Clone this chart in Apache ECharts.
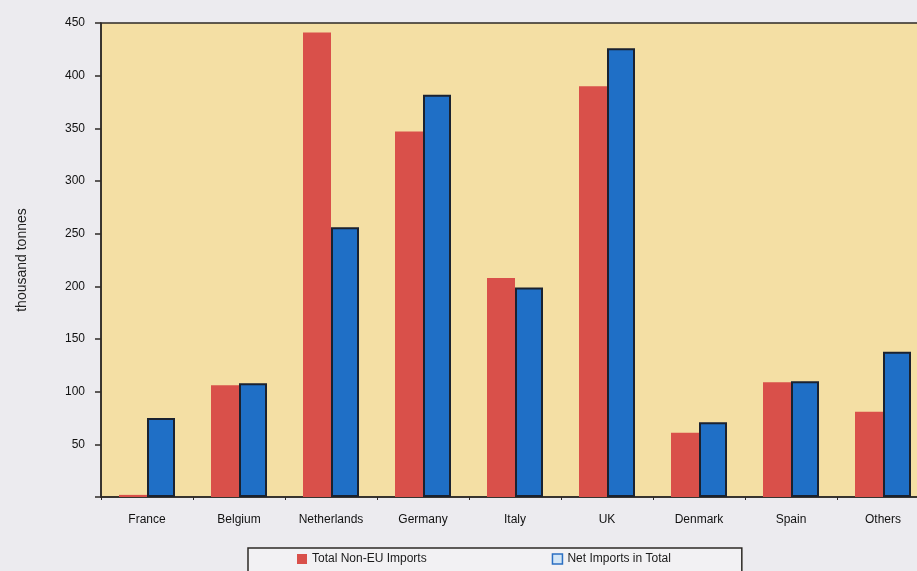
<!DOCTYPE html>
<html>
<head>
<meta charset="utf-8">
<script src="https://cdn.jsdelivr.net/npm/echarts@6/dist/echarts.min.js"></script>
<style>
html,body{margin:0;padding:0;background:#ecebef;overflow:hidden;width:917px;height:571px;}
#chart{width:932px;height:571px;}
</style>
</head>
<body>
<div id="chart"></div>
<script>
const categories = ['France','Belgium','Netherlands','Germany','Italy','UK','Denmark','Spain','Others'];
const totalNonEU = [2, 106, 441, 347, 208, 390, 61, 109, 81];
const netImports = [75, 108, 256, 382, 199, 426, 71, 110, 138];
const seriesNames = ['Total Non-EU Imports', 'Net Imports in Total'];
const yTicks = [0, 50, 100, 150, 200, 250, 300, 350, 400, 450];

const chart = echarts.init(document.getElementById('chart'));
const font = 'Liberation Sans, Arial, sans-serif';
chart.setOption({
  backgroundColor: '#ecebef',
  animation: false,
  grid: {
    left: 101, right: 3, top: 23, bottom: 74,
    show: true, backgroundColor: '#f4dfa4', borderColor: '#2d2a26', borderWidth: 1.5
  },
  legend: {
    left: 248, top: 548,
    padding: [5, 71, 30, 49],
    itemGap: 125,
    itemWidth: 10, itemHeight: 10,
    borderColor: '#2d2a26', borderWidth: 1.5,
    backgroundColor: '#f2f1f3',
    textStyle: {fontFamily: font, fontSize: 12, color: '#1a1a1a'},
    data: [
      {name: seriesNames[0], icon: 'rect', itemStyle: {color: '#d9504a'}},
      {name: seriesNames[1], icon: 'rect', itemStyle: {color: '#d3e6f6', borderColor: '#2b6fc2', borderWidth: 1.5}}
    ]
  },
  xAxis: {
    type: 'category',
    data: categories,
    axisLine: {lineStyle: {color: '#2d2a26', width: 1.5}},
    axisTick: {show: true, length: 3, lineStyle: {color: '#2d2a26'}},
    axisLabel: {margin: 17, fontFamily: font, fontSize: 12, color: '#111'}
  },
  yAxis: {
    type: 'value',
    min: yTicks[0], max: yTicks[yTicks.length - 1], interval: 50,
    name: 'thousand tonnes',
    nameLocation: 'middle',
    nameGap: 72,
    nameTextStyle: {fontFamily: font, fontSize: 14, color: '#222'},
    axisLine: {show: true, lineStyle: {color: '#2d2a26', width: 1.5}},
    axisTick: {show: true, length: 6, lineStyle: {color: '#2d2a26', width: 1.5}},
    axisLabel: {
      margin: 16, fontFamily: font, fontSize: 12, color: '#111',
      formatter: v => (v === 0 ? '' : String(v))
    },
    splitLine: {show: false}
  },
  series: [
    {
      name: seriesNames[0], type: 'bar', data: totalNonEU,
      barWidth: 28, barGap: '0%',
      itemStyle: {color: '#d9504a'}
    },
    {
      name: seriesNames[1], type: 'bar', data: netImports,
      barWidth: 28,
      itemStyle: {color: '#1f6fc6', borderColor: '#1a2230', borderWidth: 2}
    }
  ]
});
</script>
</body>
</html>
